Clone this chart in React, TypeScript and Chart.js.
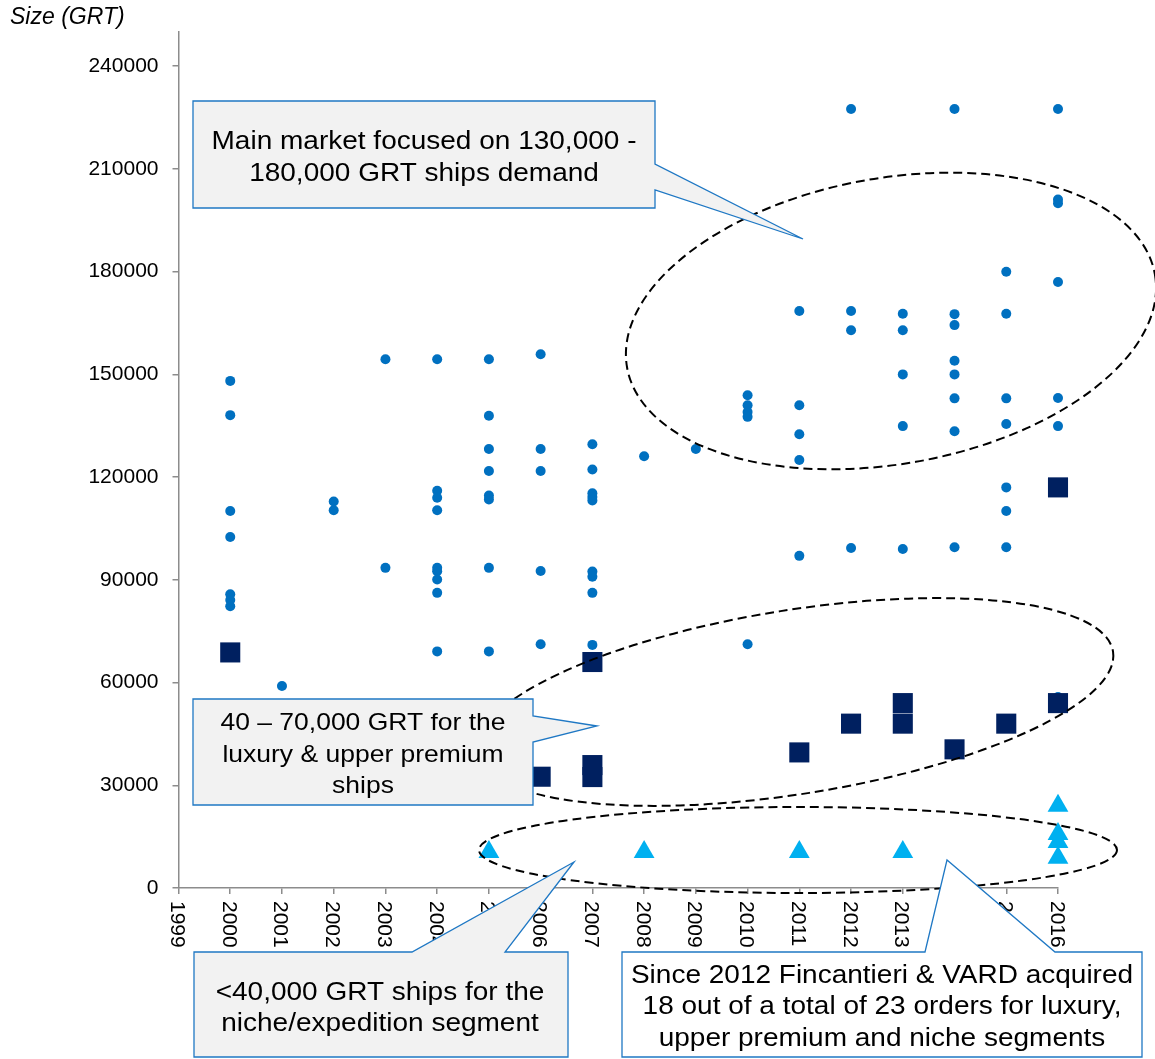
import React, { useEffect, useRef } from 'react';
import { Chart, registerables } from 'chart.js';

Chart.register(...registerables);

// ---------- data ----------
const yearTicks = [1999, 2000, 2001, 2002, 2003, 2004, 2005, 2006, 2007, 2008, 2009, 2010, 2011, 2012, 2013, 2014, 2015, 2016];
const sizeTicks = [0, 30000, 60000, 90000, 120000, 150000, 180000, 210000, 240000];

// main market ships (year, GRT)
const mainMarketShips: [number, number][] = [
  [2000, 148100], [2000, 138100], [2000, 110100], [2000, 102500], [2000, 85800], [2000, 84100], [2000, 82300],
  [2001, 59000],
  [2002, 112900], [2002, 110300],
  [2003, 154400], [2003, 93500],
  [2004, 154400], [2004, 116000], [2004, 114000], [2004, 110300], [2004, 93500], [2004, 92500], [2004, 90100], [2004, 86200], [2004, 69100],
  [2005, 154400], [2005, 137900], [2005, 128200], [2005, 121800], [2005, 114600], [2005, 113500], [2005, 93500], [2005, 69100],
  [2006, 155900], [2006, 128200], [2006, 121800], [2006, 92600], [2006, 71200],
  [2007, 129600], [2007, 122200], [2007, 115300], [2007, 114200], [2007, 113200], [2007, 92400], [2007, 90900], [2007, 86200], [2007, 71000],
  [2008, 126100],
  [2009, 128200],
  [2010, 143900], [2010, 141000], [2010, 139000], [2010, 137600], [2010, 71200],
  [2011, 168500], [2011, 141000], [2011, 132500], [2011, 125000], [2011, 97000],
  [2012, 227500], [2012, 168500], [2012, 162900], [2012, 99300],
  [2013, 167700], [2013, 162900], [2013, 150000], [2013, 134900], [2013, 99000],
  [2014, 227500], [2014, 167600], [2014, 164400], [2014, 154000], [2014, 150000], [2014, 143000], [2014, 133400], [2014, 99500],
  [2015, 180000], [2015, 167700], [2015, 143000], [2015, 135500], [2015, 117000], [2015, 110100], [2015, 99500],
  [2016, 227500], [2016, 201100], [2016, 200000], [2016, 177000], [2016, 143100], [2016, 134900], [2016, 55800],
];

// luxury & upper premium ships (year, GRT)
const luxuryShips: [number, number][] = [
  [2000, 68800], [2006, 32500], [2007, 66000], [2007, 35900], [2007, 32400], [2011, 39600],
  [2012, 48000], [2013, 54000], [2013, 48000], [2014, 40500], [2015, 48000], [2016, 117000], [2016, 54000],
];

// niche / expedition ships (year, GRT)
const nicheShips: [number, number][] = [
  [2005, 10500], [2008, 10500], [2011, 10500], [2013, 10500], [2016, 24000], [2016, 15800], [2016, 13400], [2016, 8800],
];

const axisTitle = 'Size (GRT)';
const calloutMainText = ['Main market focused on 130,000 -', '180,000 GRT ships demand'];
const calloutLuxuryText = ['40 \u2013 70,000 GRT for the', 'luxury & upper premium', 'ships'];
const calloutNicheText = ['<40,000 GRT ships for the', 'niche/expedition segment'];
const calloutOrdersText = ['Since 2012 Fincantieri & VARD acquired', '18 out of a total of 23 orders for luxury,', 'upper premium and niche segments'];

// ---------- styles / layout ----------
const FONT = '"Liberation Sans", Arial, Helvetica, sans-serif';
const AXIS = '#8c8c8c';
const CALLOUT_BORDER = '#1f78c4';

type Ellipse = { cx: number; cy: number; rx: number; ry: number; rot: number };
const ellipses: Ellipse[] = [
  { cx: 891, cy: 321, rx: 268, ry: 143, rot: -10 },
  { cx: 795, cy: 702, rx: 322, ry: 92, rot: -9 },
  { cx: 798, cy: 850, rx: 319, ry: 43, rot: 0 },
];

type Callout = { shape: [number, number][]; fill: string; lines: string[]; tx: number; baselines: number[]; size: number };
const callouts: Callout[] = [
  {
    shape: [[193, 101], [655, 101], [655, 164], [803, 239], [655, 190], [655, 208], [193, 208]],
    fill: '#f2f2f2', lines: calloutMainText, tx: 424, baselines: [149, 181], size: 25.7,
  },
  {
    shape: [[193, 699], [533, 699], [533, 716], [597, 726], [533, 742], [533, 805], [193, 805]],
    fill: '#f2f2f2', lines: calloutLuxuryText, tx: 363, baselines: [730, 762, 793], size: 24.3,
  },
  {
    shape: [[194, 952], [412, 952], [574, 862], [505, 952], [568, 952], [568, 1057], [194, 1057]],
    fill: '#f2f2f2', lines: calloutNicheText, tx: 380, baselines: [1000, 1031], size: 25.7,
  },
  {
    shape: [[622, 952], [925, 952], [947, 860], [1055, 952], [1142, 952], [1142, 1057], [622, 1057]],
    fill: '#ffffff', lines: calloutOrdersText, tx: 882, baselines: [983, 1014, 1046], size: 25.7,
  },
];

const overlayPlugin = {
  id: 'overlay',
  afterDatasetsDraw(chart: any) {
    const ctx: CanvasRenderingContext2D = chart.ctx;
    ctx.save();
    ctx.setLineDash([9, 5]);
    ctx.lineWidth = 2;
    ctx.strokeStyle = '#000';
    for (const e of ellipses) {
      ctx.beginPath();
      ctx.ellipse(e.cx, e.cy, e.rx, e.ry, (e.rot * Math.PI) / 180, 0, Math.PI * 2);
      ctx.stroke();
    }
    ctx.restore();
  },
  afterDraw(chart: any) {
    const ctx: CanvasRenderingContext2D = chart.ctx;
    const xs = chart.scales.x;
    // rotated year labels
    ctx.save();
    ctx.font = `21px ${FONT}`;
    ctx.fillStyle = '#000';
    ctx.textAlign = 'left';
    ctx.textBaseline = 'alphabetic';
    for (const yr of yearTicks) {
      const px = xs.getPixelForValue(yr);
      ctx.save();
      ctx.translate(px, chart.chartArea.bottom + 13);
      ctx.rotate(Math.PI / 2);
      ctx.fillText(String(yr), 0, 7.5);
      ctx.restore();
    }
    ctx.restore();

    // callouts
    for (const c of callouts) {
      ctx.save();
      ctx.beginPath();
      c.shape.forEach(([x, y], i) => (i ? ctx.lineTo(x, y) : ctx.moveTo(x, y)));
      ctx.closePath();
      ctx.fillStyle = c.fill;
      ctx.fill();
      ctx.lineWidth = 1.3;
      ctx.strokeStyle = CALLOUT_BORDER;
      ctx.stroke();
      ctx.fillStyle = '#000';
      ctx.font = `${c.size}px ${FONT}`;
      ctx.textAlign = 'center';
      ctx.textBaseline = 'alphabetic';
      c.lines.forEach((t, i) => {
        ctx.save();
        ctx.translate(c.tx, c.baselines[i]);
        ctx.scale(1.09, 1);
        ctx.fillText(t, 0, 0);
        ctx.restore();
      });
      ctx.restore();
    }

    // axis title
    ctx.save();
    ctx.font = `italic 23px ${FONT}`;
    ctx.fillStyle = '#000';
    ctx.textAlign = 'left';
    ctx.textBaseline = 'alphabetic';
    ctx.fillText(axisTitle, 10, 24);
    ctx.restore();
  },
};

export default function App() {
  const ref = useRef<HTMLCanvasElement>(null);
  useEffect(() => {
    const canvas = ref.current;
    if (!canvas) return;
    const toPts = (arr: [number, number][]) => arr.map(([x, y]) => ({ x, y }));
    const chart = new Chart(canvas, {
      type: 'scatter',
      data: {
        datasets: [
          {
            label: 'Niche/expedition',
            data: toPts(nicheShips),
            pointStyle: 'triangle',
            pointRadius: 12,
            pointBackgroundColor: '#00B0F0',
            pointBorderWidth: 0,
            clip: false,
          } as any,
          {
            label: 'Luxury & upper premium',
            data: toPts(luxuryShips),
            pointStyle: 'rect',
            pointRadius: 14.2,
            pointBackgroundColor: '#002060',
            pointBorderWidth: 0,
            clip: false,
          } as any,
          {
            label: 'Main market',
            data: toPts(mainMarketShips),
            pointStyle: 'circle',
            pointRadius: 5,
            pointBackgroundColor: '#0070C0',
            pointBorderWidth: 0,
            clip: false,
          } as any,
        ],
      },
      options: {
        responsive: false,
        animation: false,
        devicePixelRatio: 1,
        events: [],
        layout: { padding: { left: 0, top: 32, right: 97, bottom: 0 } },
        plugins: { legend: { display: false }, tooltip: { enabled: false }, title: { display: false } },
        scales: {
          x: {
            type: 'linear',
            min: 1999,
            max: 2016,
            afterBuildTicks: (s: any) => {
              s.ticks = yearTicks.map((v) => ({ value: v }));
            },
            afterFit: (s: any) => {
              s.height = 171;
            },
            ticks: { display: false },
            grid: { drawOnChartArea: false, drawTicks: true, tickLength: 6, color: AXIS, lineWidth: 1.5 },
            border: { display: true, color: AXIS, width: 1.5 },
          },
          y: {
            type: 'linear',
            min: 0,
            max: 250000,
            afterBuildTicks: (s: any) => {
              s.ticks = sizeTicks.map((v) => ({ value: v }));
            },
            afterFit: (s: any) => {
              s.width = 178.5;
            },
            ticks: {
              color: '#000',
              font: { family: FONT, size: 21 },
              padding: 14,
              callback: (v: any) => String(v),
            },
            grid: { drawOnChartArea: false, drawTicks: true, tickLength: 6, color: AXIS, lineWidth: 1.5 },
            border: { display: true, color: AXIS, width: 1.5 },
          },
        },
      } as any,
      plugins: [overlayPlugin],
    });
    return () => chart.destroy();
  }, []);
  return (
    <div style={{ position: 'fixed', left: 0, top: 0, width: 1155, height: 1059, background: '#fff' }}>
      <canvas ref={ref} width={1155} height={1059} style={{ display: 'block', width: 1155, height: 1059 }} />
    </div>
  );
}
